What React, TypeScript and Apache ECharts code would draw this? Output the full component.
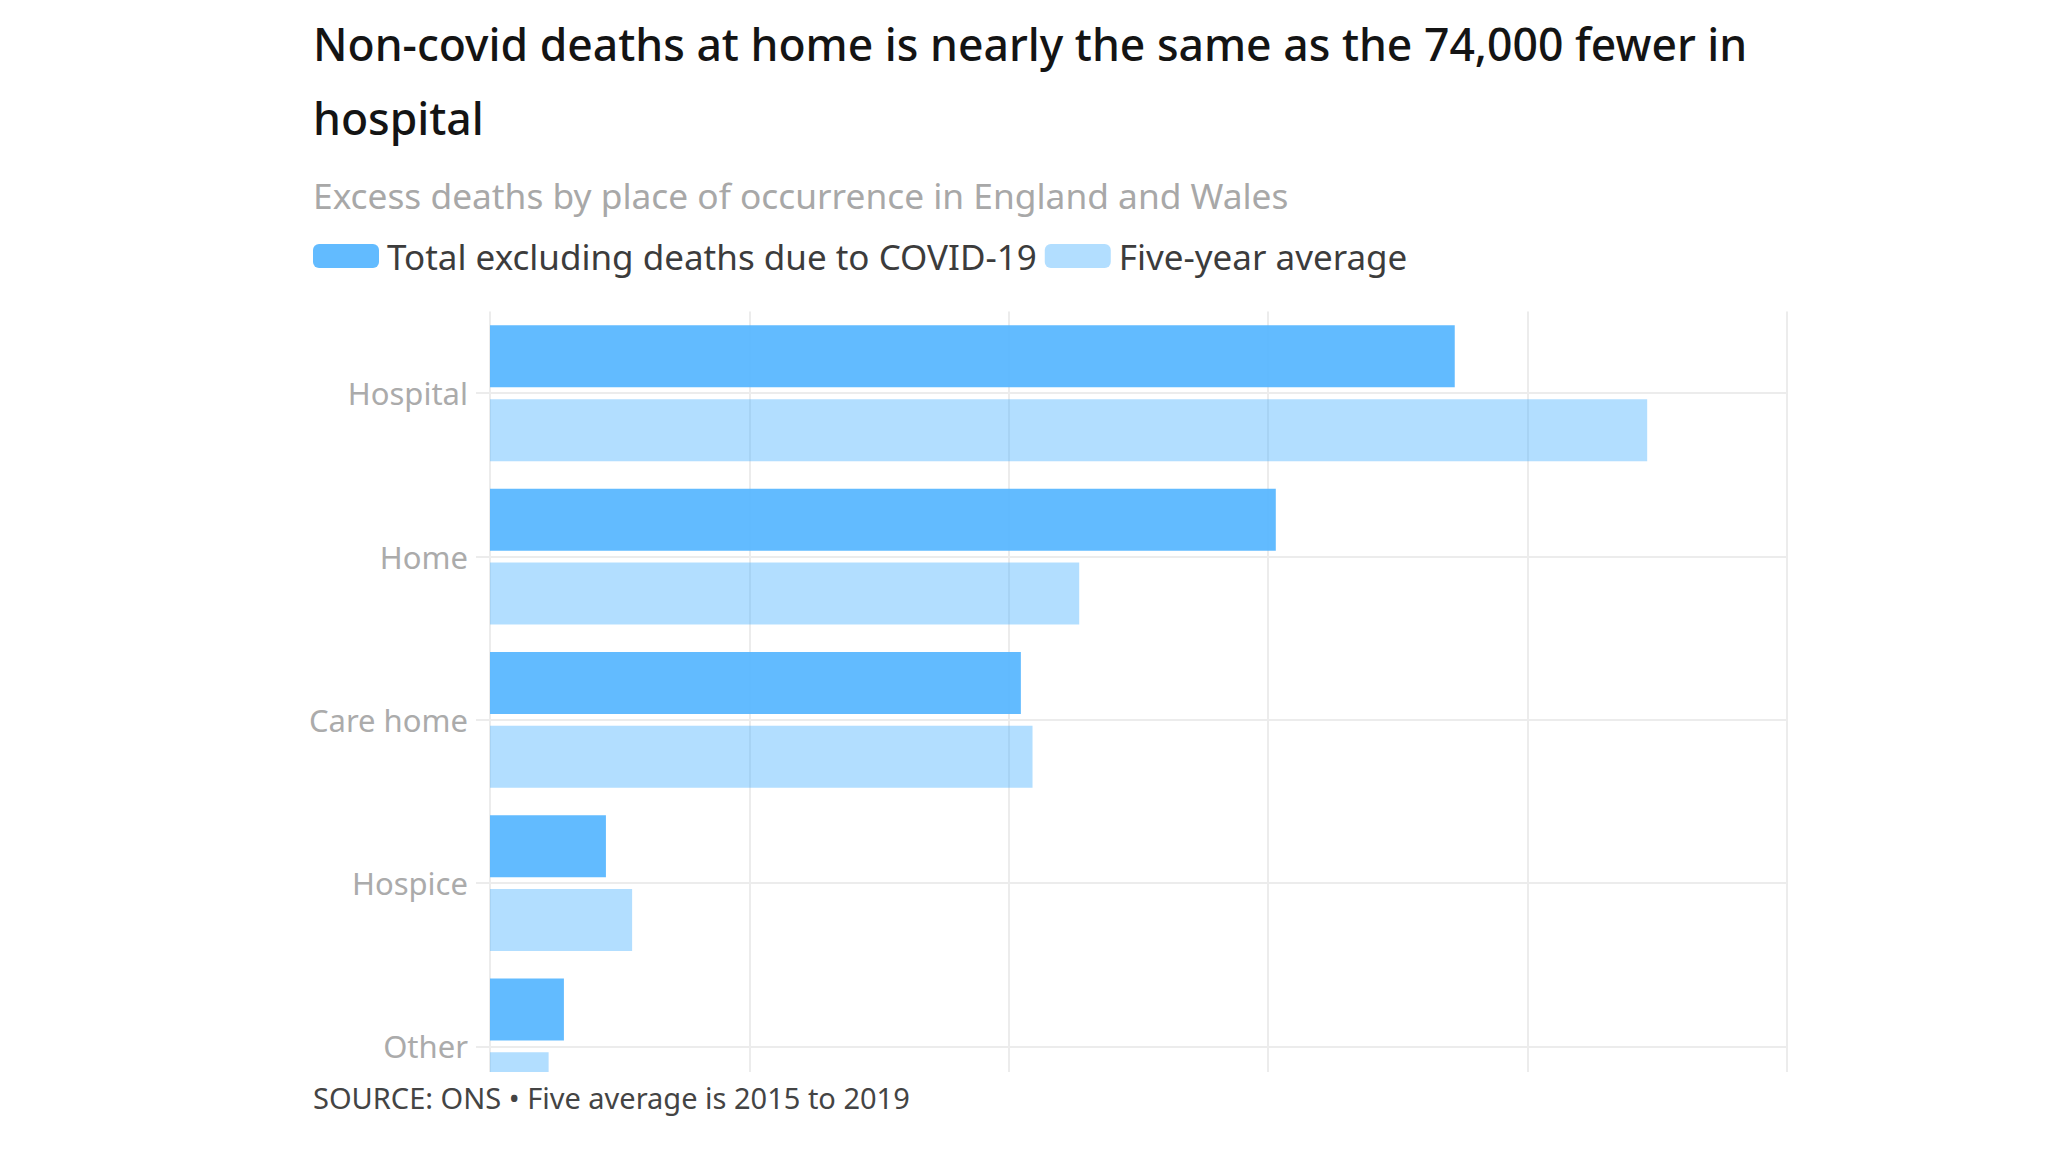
import React, { useEffect, useRef } from "react";
import * as echarts from "echarts";

const categories = ["Hospital", "Home", "Care home", "Hospice", "Other"];
const totalExclCovid = [372000, 303000, 204700, 44700, 28500];
const fiveYearAverage = [446200, 227200, 209200, 54800, 22600];
const seriesNames = ["Total excluding deaths due to COVID-19", "Five-year average"];
const xTicks = [0, 100000, 200000, 300000, 400000, 500000];

const titleText = "Non-covid deaths at home is nearly the same as the 74,000 fewer in\nhospital";
const subtitleText = "Excess deaths by place of occurrence in England and Wales";
const sourceText = "SOURCE: ONS \u2022 Five average is 2015 to 2019";

const FONT = "'Noto Sans', sans-serif";
const GRID_COLOR = "#ececec";

export default function App() {
  const ref = useRef<HTMLDivElement>(null);

  useEffect(() => {
    if (!ref.current) return;
    const chart = echarts.init(ref.current, undefined, { renderer: "svg" });
    chart.setOption({
      animation: false,
      backgroundColor: "#ffffff",
      title: [
        {
          text: titleText,
          left: 308,
          top: 1,
          textStyle: { fontFamily: FONT, fontSize: 44.5, fontWeight: 500, color: "#141414", lineHeight: 74.5 },
        },
        {
          text: subtitleText,
          left: 308,
          top: 170,
          textStyle: { fontFamily: FONT, fontSize: 35.3, fontWeight: 400, color: "#a8a8a8", lineHeight: 40 },
        },
        {
          text: sourceText,
          left: 308,
          top: 1072,
          z: 200,
          textStyle: { fontFamily: FONT, fontSize: 29, fontWeight: 400, color: "#444444", lineHeight: 40 },
        },
      ],
      legend: {
        left: 308,
        top: 231,
        itemWidth: 66,
        itemHeight: 24,
        itemGap: 8,
        icon: "roundRect",
        data: seriesNames,
        textStyle: { fontFamily: FONT, fontSize: 35, color: "#3c3c3c", lineHeight: 40, padding: [0, 0, 0, 3] },
      },
      grid: { left: 490, top: 311.6, right: 261.3, bottom: 24, containLabel: false },
      xAxis: {
        type: "value",
        min: xTicks[0],
        max: xTicks[xTicks.length - 1],
        interval: xTicks[1] - xTicks[0],
        axisLabel: { show: false },
        axisLine: { show: false },
        axisTick: { show: false },
        splitLine: { show: true, lineStyle: { color: GRID_COLOR, width: 2 } },
      },
      yAxis: {
        type: "category",
        data: categories,
        inverse: true,
        axisLine: { show: false },
        axisTick: { show: true, alignWithLabel: true, length: 14, lineStyle: { color: GRID_COLOR, width: 2 } },
        axisLabel: { color: "#ababab", fontFamily: FONT, fontSize: 31, margin: 22, padding: [0, 0, 5, 0] },
        splitLine: { show: false },
      },
      series: [
        {
          name: "category lines",
          type: "line",
          data: [],
          z: 1,
          silent: true,
          showSymbol: false,
          markLine: {
            silent: true,
            symbol: "none",
            z: 1,
            label: { show: false },
            lineStyle: { color: GRID_COLOR, width: 2, type: "solid" },
            data: categories.map((c) => [
              { coord: [xTicks[0], c] },
              { coord: [xTicks[xTicks.length - 1], c] },
            ]),
          },
        },
        {
          name: seriesNames[0],
          type: "bar",
          data: totalExclCovid,
          barWidth: 62,
          barGap: "19%",
          z: 3,
          itemStyle: { color: "rgba(85,181,255,0.92)" },
        },
        {
          name: seriesNames[1],
          type: "bar",
          data: fiveYearAverage,
          barWidth: 62,
          barGap: "19%",
          z: 3,
          itemStyle: { color: "rgba(85,181,255,0.45)" },
        },
      ],
      graphic: [
        {
          type: "rect",
          z: 150,
          silent: true,
          shape: { x: 0, y: 1072, width: 2048, height: 80 },
          style: { fill: "#ffffff" },
        },
      ],
    });
    return () => chart.dispose();
  }, []);

  return (
    <div
      ref={ref}
      style={{ position: "fixed", left: 0, top: 0, width: "2048px", height: "1152px" }}
    />
  );
}
